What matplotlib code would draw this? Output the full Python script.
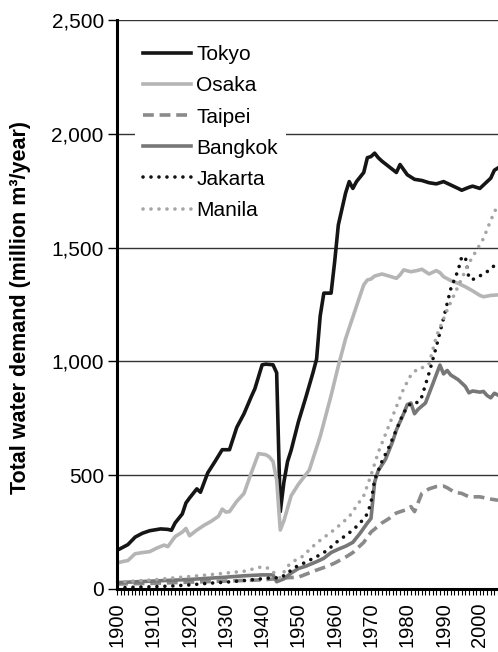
import matplotlib
matplotlib.use("Agg")
import matplotlib.pyplot as plt
from matplotlib.ticker import MultipleLocator, FuncFormatter

plt.rcParams["font.family"] = ["Liberation Sans", "DejaVu Sans"]

# values (million m3/year)
tokyo_years = [1900, 1901, 1903, 1905, 1907, 1909, 1912, 1914, 1915, 1916, 1918, 1919, 1920,
               1922, 1923, 1925, 1927, 1929, 1931, 1933, 1935, 1937, 1938, 1940, 1941, 1943,
               1944, 1945, 1946, 1947, 1948, 1950, 1952, 1954, 1955, 1956, 1957, 1959, 1960,
               1961, 1963, 1964, 1965, 1966, 1968, 1969, 1970, 1971, 1972, 1973, 1975, 1977,
               1978, 1980, 1982, 1984, 1986, 1988, 1990, 1992, 1994, 1995, 1997, 1998, 2000,
               2002, 2003, 2004, 2005]
tokyo = [170, 178, 195, 228, 245, 256, 264, 262, 258, 290, 330, 378, 400,
         440, 425, 510, 560, 612, 612, 710, 770, 845, 880, 985, 988, 985,
         950, 340, 470, 560, 610, 735, 840, 950, 1010, 1200, 1300, 1300, 1440,
         1600, 1740, 1790, 1760, 1790, 1830, 1895, 1900, 1915, 1895, 1880, 1855, 1830,
         1865, 1820, 1800, 1795, 1785, 1780, 1790, 1775, 1760, 1752, 1765, 1770, 1760,
         1790, 1805, 1840, 1850]

osaka_years = [1900, 1902, 1903, 1905, 1907, 1909, 1911, 1913, 1914, 1916, 1918, 1919, 1920,
               1922, 1924, 1926, 1928, 1929, 1930, 1931, 1933, 1935, 1937, 1939, 1941, 1942,
               1943, 1944, 1945, 1946, 1948, 1950, 1953, 1956, 1959, 1961, 1963, 1965, 1967,
               1968, 1969, 1970, 1971, 1973, 1975, 1977, 1978, 1979, 1980, 1981, 1983, 1984,
               1986, 1988, 1989, 1990, 1992, 1994, 1996, 1998, 2000, 2001, 2003, 2005]
osaka = [115, 122, 125, 155, 160, 164, 180, 193, 186, 230, 250, 266, 234,
         259, 280, 298, 320, 351, 338, 340, 385, 420, 510, 595, 590, 580,
         560, 480, 259, 300, 410, 460, 523, 670, 850, 980, 1100, 1195, 1290,
         1336, 1358, 1362, 1375, 1384, 1375, 1365, 1380, 1402, 1398, 1394, 1400, 1405,
         1384, 1399, 1390, 1372, 1355, 1343, 1328, 1310, 1290, 1284, 1290, 1292]

taipei_years = [1900, 1910, 1920, 1930, 1940, 1944, 1945, 1950, 1955, 1958, 1960, 1963, 1965,
                1968, 1970, 1973, 1975, 1977, 1980, 1981, 1982, 1984, 1986, 1988, 1990, 1991,
                1993, 1995, 1997, 2000, 2003, 2005]
taipei = [22, 25, 30, 35, 40, 45, 48, 52, 83, 100, 114, 140, 160,
          205, 250, 290, 310, 334, 350, 362, 340, 420, 440, 450, 452, 445,
          425, 420, 405, 405, 395, 390]

bangkok_years = [1900, 1910, 1920, 1930, 1935, 1940, 1943, 1944, 1946, 1948, 1950, 1952, 1955,
                 1957, 1959, 1961, 1963, 1965, 1967, 1969, 1970, 1971, 1972, 1974, 1976, 1977,
                 1979, 1980, 1981, 1982, 1983, 1985, 1987, 1989, 1990, 1991, 1992, 1994, 1996,
                 1997, 1998, 2000, 2001, 2002, 2003, 2004, 2005]
bangkok = [28, 35, 42, 52, 58, 62, 62, 32, 45, 70, 90, 100, 120,
           135, 160, 175, 188, 205, 245, 290, 310, 470, 520, 570, 650, 699,
           770, 810, 817, 770, 790, 817, 900, 984, 945, 960, 940, 920, 890,
           862, 870, 865, 868, 850, 840, 860, 852]

jakarta_years = [1900, 1905, 1910, 1915, 1920, 1925, 1930, 1935, 1940, 1943, 1945, 1947, 1949,
                 1951, 1955, 1958, 1960, 1963, 1965, 1967, 1969, 1970, 1971, 1973, 1975, 1977,
                 1979, 1981, 1983, 1984, 1986, 1988, 1990, 1992, 1994, 1995, 1996, 1997, 1998,
                 1999, 2001, 2002, 2003, 2005]
jakarta = [5, 8, 10, 13, 18, 25, 30, 37, 45, 50, 48, 70, 95,
           110, 142, 170, 200, 235, 259, 290, 330, 380, 480, 560, 625, 700,
           775, 817, 820, 845, 949, 1065, 1190, 1320, 1400, 1459, 1459, 1365, 1360,
           1366, 1385, 1394, 1410, 1430]

manila_years = [1900, 1905, 1910, 1915, 1920, 1925, 1930, 1935, 1940, 1942, 1944, 1945, 1947,
                1949, 1951, 1955, 1960, 1964, 1968, 1970, 1972, 1974, 1977, 1979, 1981, 1983,
                1985, 1986, 1988, 1991, 1994, 1997, 2001, 2003, 2005]
manila = [30, 35, 40, 48, 55, 62, 70, 78, 98, 90, 60, 48, 100,
          125, 142, 202, 262, 318, 410, 500, 600, 680, 801, 880, 940, 970,
          975, 990, 1109, 1226, 1330, 1432, 1540, 1620, 1690]

series = [
    ("Tokyo", tokyo_years, tokyo, dict(color="#151515", ls="-")),
    ("Osaka", osaka_years, osaka, dict(color="#b5b5b5", ls="-")),
    ("Taipei", taipei_years, taipei, dict(color="#8a8a8a", ls=(0, (3, 1.6)))),
    ("Bangkok", bangkok_years, bangkok, dict(color="#777777", ls="-")),
    ("Jakarta", jakarta_years, jakarta, dict(color="#111111", ls=(0, (0.01, 2.2)),
                                             dash_capstyle="round")),
    ("Manila", manila_years, manila, dict(color="#a5a5a5", ls=(0, (0.01, 2.2)),
                                          dash_capstyle="round")),
]

fig = plt.figure(figsize=(4.98, 6.52), dpi=100)
ax = fig.add_axes([117 / 498, 63 / 652, 381 / 498, 569 / 652])

for name, yrs, vals, style in series:
    ax.plot(yrs, vals, lw=2.6, label=name, **style)

ax.set_xlim(1900, 2005)
ax.set_ylim(0, 2500)
ax.yaxis.set_major_locator(MultipleLocator(500))
ax.yaxis.set_major_formatter(FuncFormatter(lambda v, p: f"{int(v):,}"))
ax.xaxis.set_major_locator(MultipleLocator(10))
ax.xaxis.set_minor_locator(MultipleLocator(1))
ax.tick_params(axis="y", labelsize=15, length=6.5, width=1, pad=3)
ax.tick_params(axis="x", which="both", labelsize=14.5, length=4.5, width=0.8,
               labelrotation=90, pad=5)

ax.grid(axis="y", color="#333333", lw=1.0, zorder=0)
ax.set_axisbelow(True)
for s in ("top", "right"):
    ax.spines[s].set_visible(False)
ax.spines["left"].set_linewidth(2.2)
ax.spines["bottom"].set_linewidth(2.2)

ax.set_ylabel("Total water demand (million m³/year)", fontsize=15.5, fontweight="bold")
ax.yaxis.set_label_coords(-0.225, 0.495)

leg = ax.legend(loc="upper left", bbox_to_anchor=(18 / 381, 0.97), borderaxespad=0,
                fontsize=15, frameon=True, fancybox=False, framealpha=1,
                edgecolor="none", facecolor="white", handlelength=2.3,
                handletextpad=0.25, labelspacing=0.58, borderpad=0.4)

fig.savefig("out.png", dpi=100)
